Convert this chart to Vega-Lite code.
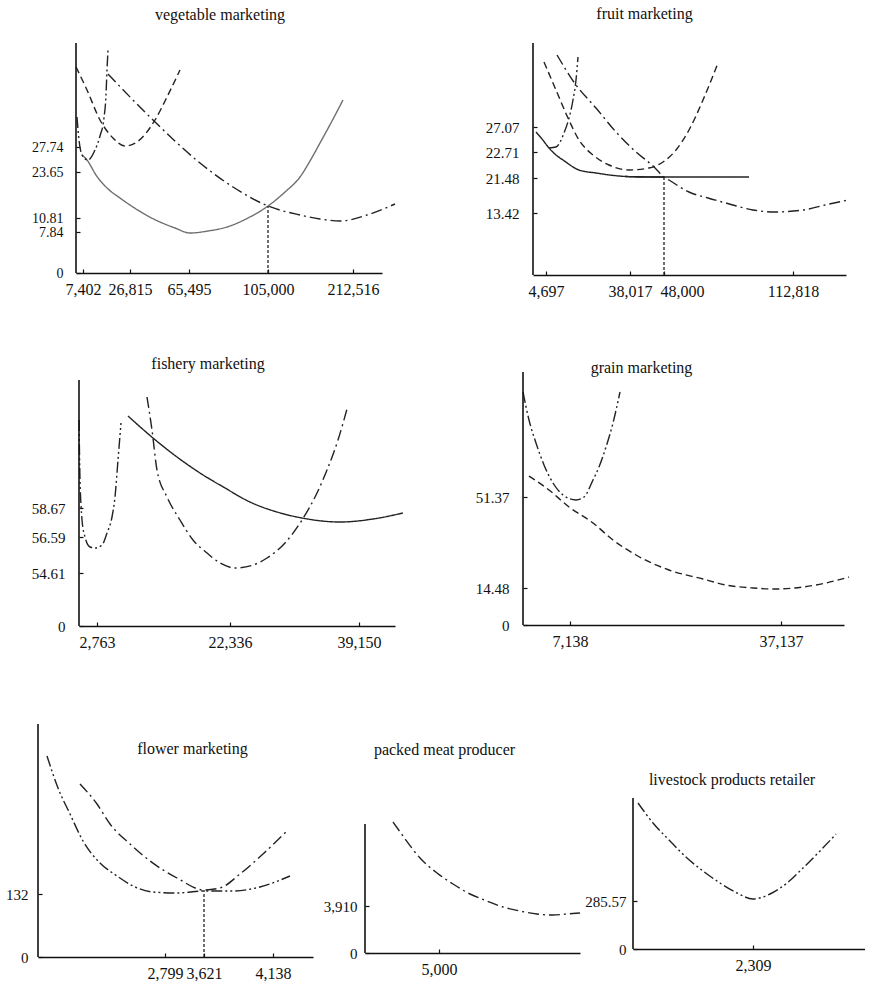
{
  "$schema": "https://vega.github.io/schema/vega-lite/v6.json",
  "padding": {"left": 0, "top": 4, "right": 0, "bottom": 0},
  "background": "white",
  "spacing": 0,
  "bounds": "full",
  "config": {
    "view": {"stroke": null},
    "axis": {"grid": false, "domainColor": "#111", "domainWidth": 1.6, "tickColor": "#111", "tickSize": -4, "tickWidth": 1.2, "labelFont": "Liberation Serif", "labelFontSize": 16, "labelColor": "#111", "labelFlush": false, "labelOverlap": false, "labelBound": false},
    "axisX": {"labelPadding": 12},
    "axisY": {"labelPadding": 18, "domain": false, "labelFontSize": 15},
    "title": {"font": "Liberation Serif", "fontSize": 16, "fontWeight": "normal", "color": "#111", "anchor": "middle", "frame": "group"},
    "line": {"color": "#222", "strokeWidth": 1.4, "interpolate": "monotone"},
    "rule": {"color": "#222", "strokeWidth": 1.3, "strokeDash": [3, 2]},
    "rect": {"opacity": 0}
  },
  "datasets": {
    "veg": [
      {"s": "solid", "x": 6, "y": 118}, {"s": "solid", "x": 11, "y": 113}, {"s": "solid", "x": 20, "y": 98}, {"s": "solid", "x": 31, "y": 85}, {"s": "solid", "x": 44, "y": 75}, {"s": "solid", "x": 57, "y": 66}, {"s": "solid", "x": 70, "y": 58}, {"s": "solid", "x": 84, "y": 51}, {"s": "solid", "x": 99, "y": 45}, {"s": "solid", "x": 114, "y": 40}, {"s": "solid", "x": 132, "y": 42}, {"s": "solid", "x": 151, "y": 46}, {"s": "solid", "x": 172, "y": 55}, {"s": "solid", "x": 192, "y": 67}, {"s": "solid", "x": 209, "y": 81}, {"s": "solid", "x": 224, "y": 96}, {"s": "solid", "x": 234, "y": 112}, {"s": "solid", "x": 244, "y": 130}, {"s": "solid", "x": 256, "y": 152}, {"s": "solid", "x": 267, "y": 173},
      {"s": "dashdotdot", "x": 1, "y": 156}, {"s": "dashdotdot", "x": 3, "y": 133}, {"s": "dashdotdot", "x": 6, "y": 118}, {"s": "dashdotdot", "x": 12, "y": 113}, {"s": "dashdotdot", "x": 19, "y": 123}, {"s": "dashdotdot", "x": 24, "y": 137}, {"s": "dashdotdot", "x": 28, "y": 155}, {"s": "dashdotdot", "x": 30, "y": 178}, {"s": "dashdotdot", "x": 31, "y": 203}, {"s": "dashdotdot", "x": 32, "y": 223},
      {"s": "dashed", "x": 0, "y": 206}, {"s": "dashed", "x": 11, "y": 183}, {"s": "dashed", "x": 24, "y": 153}, {"s": "dashed", "x": 37, "y": 135}, {"s": "dashed", "x": 49, "y": 127}, {"s": "dashed", "x": 61, "y": 131}, {"s": "dashed", "x": 79, "y": 153}, {"s": "dashed", "x": 91, "y": 176}, {"s": "dashed", "x": 104, "y": 203},
      {"s": "dashdot", "x": 32, "y": 199}, {"s": "dashdot", "x": 55, "y": 175}, {"s": "dashdot", "x": 77, "y": 153}, {"s": "dashdot", "x": 100, "y": 131}, {"s": "dashdot", "x": 124, "y": 110}, {"s": "dashdot", "x": 157, "y": 86}, {"s": "dashdot", "x": 192, "y": 67}, {"s": "dashdot", "x": 224, "y": 58}, {"s": "dashdot", "x": 244, "y": 54}, {"s": "dashdot", "x": 264, "y": 52}, {"s": "dashdot", "x": 291, "y": 58}, {"s": "dashdot", "x": 319, "y": 69}
    ],
    "fruit": [
      {"s": "solid", "x": 3, "y": 143}, {"s": "solid", "x": 9, "y": 136}, {"s": "solid", "x": 16, "y": 127}, {"s": "solid", "x": 23, "y": 120}, {"s": "solid", "x": 30, "y": 115}, {"s": "solid", "x": 46, "y": 105}, {"s": "solid", "x": 63, "y": 102}, {"s": "solid", "x": 86, "y": 99}, {"s": "solid", "x": 110, "y": 98}, {"s": "solid", "x": 131, "y": 98},
      {"s": "heavy", "x": 92, "y": 98.5}, {"s": "heavy", "x": 131, "y": 98}, {"s": "heavy", "x": 216, "y": 98},
      {"s": "dashdotdot", "x": 16, "y": 127}, {"s": "dashdotdot", "x": 23, "y": 128}, {"s": "dashdotdot", "x": 31, "y": 142}, {"s": "dashdotdot", "x": 36, "y": 157}, {"s": "dashdotdot", "x": 40, "y": 175}, {"s": "dashdotdot", "x": 43, "y": 195}, {"s": "dashdotdot", "x": 45, "y": 218},
      {"s": "dashed", "x": 11, "y": 213}, {"s": "dashed", "x": 23, "y": 185}, {"s": "dashed", "x": 35, "y": 157}, {"s": "dashed", "x": 46, "y": 135}, {"s": "dashed", "x": 60, "y": 120}, {"s": "dashed", "x": 76, "y": 110}, {"s": "dashed", "x": 96, "y": 105}, {"s": "dashed", "x": 116, "y": 107}, {"s": "dashed", "x": 130, "y": 113}, {"s": "dashed", "x": 143, "y": 125}, {"s": "dashed", "x": 156, "y": 145}, {"s": "dashed", "x": 170, "y": 175}, {"s": "dashed", "x": 185, "y": 212},
      {"s": "dashdot", "x": 24, "y": 220}, {"s": "dashdot", "x": 43, "y": 190}, {"s": "dashdot", "x": 63, "y": 167}, {"s": "dashdot", "x": 83, "y": 143}, {"s": "dashdot", "x": 103, "y": 123}, {"s": "dashdot", "x": 120, "y": 109}, {"s": "dashdot", "x": 131, "y": 98}, {"s": "dashdot", "x": 136, "y": 95}, {"s": "dashdot", "x": 156, "y": 83}, {"s": "dashdot", "x": 175, "y": 77}, {"s": "dashdot", "x": 193, "y": 72}, {"s": "dashdot", "x": 220, "y": 65}, {"s": "dashdot", "x": 241, "y": 63}, {"s": "dashdot", "x": 270, "y": 65}, {"s": "dashdot", "x": 292, "y": 70}, {"s": "dashdot", "x": 315, "y": 75}
    ],
    "fish": [
      {"s": "dashdotdot", "x": 0, "y": 206}, {"s": "dashdotdot", "x": 1, "y": 146}, {"s": "dashdotdot", "x": 2, "y": 121}, {"s": "dashdotdot", "x": 3, "y": 106}, {"s": "dashdotdot", "x": 6, "y": 89}, {"s": "dashdotdot", "x": 11, "y": 79}, {"s": "dashdotdot", "x": 16, "y": 78}, {"s": "dashdotdot", "x": 23, "y": 81}, {"s": "dashdotdot", "x": 28, "y": 93}, {"s": "dashdotdot", "x": 33, "y": 109}, {"s": "dashdotdot", "x": 36, "y": 129}, {"s": "dashdotdot", "x": 39, "y": 166}, {"s": "dashdotdot", "x": 42, "y": 203},
      {"s": "solid", "x": 49, "y": 210}, {"s": "solid", "x": 74, "y": 188}, {"s": "solid", "x": 98, "y": 169}, {"s": "solid", "x": 121, "y": 153}, {"s": "solid", "x": 146, "y": 138}, {"s": "solid", "x": 171, "y": 124}, {"s": "solid", "x": 198, "y": 114}, {"s": "solid", "x": 223, "y": 108}, {"s": "solid", "x": 261, "y": 104}, {"s": "solid", "x": 294, "y": 107}, {"s": "solid", "x": 324, "y": 113},
      {"s": "dashdot", "x": 68, "y": 229}, {"s": "dashdot", "x": 73, "y": 196}, {"s": "dashdot", "x": 78, "y": 156}, {"s": "dashdot", "x": 88, "y": 129}, {"s": "dashdot", "x": 101, "y": 106}, {"s": "dashdot", "x": 114, "y": 86}, {"s": "dashdot", "x": 128, "y": 73}, {"s": "dashdot", "x": 141, "y": 63}, {"s": "dashdot", "x": 156, "y": 58}, {"s": "dashdot", "x": 174, "y": 61}, {"s": "dashdot", "x": 188, "y": 68}, {"s": "dashdot", "x": 206, "y": 83}, {"s": "dashdot", "x": 223, "y": 106}, {"s": "dashdot", "x": 238, "y": 133}, {"s": "dashdot", "x": 248, "y": 156}, {"s": "dashdot", "x": 259, "y": 186}, {"s": "dashdot", "x": 268, "y": 217}
    ],
    "grain": [
      {"s": "dashdotdot", "x": 0, "y": 233}, {"s": "dashdotdot", "x": 6, "y": 205}, {"s": "dashdotdot", "x": 13, "y": 182}, {"s": "dashdotdot", "x": 21, "y": 160}, {"s": "dashdotdot", "x": 30, "y": 142}, {"s": "dashdotdot", "x": 40, "y": 130}, {"s": "dashdotdot", "x": 53, "y": 125}, {"s": "dashdotdot", "x": 61, "y": 128}, {"s": "dashdotdot", "x": 70, "y": 145}, {"s": "dashdotdot", "x": 76, "y": 158}, {"s": "dashdotdot", "x": 83, "y": 178}, {"s": "dashdotdot", "x": 90, "y": 202}, {"s": "dashdotdot", "x": 97, "y": 233},
      {"s": "dashed", "x": 6, "y": 149}, {"s": "dashed", "x": 26, "y": 135}, {"s": "dashed", "x": 46, "y": 118}, {"s": "dashed", "x": 70, "y": 102}, {"s": "dashed", "x": 90, "y": 85}, {"s": "dashed", "x": 113, "y": 70}, {"s": "dashed", "x": 146, "y": 55}, {"s": "dashed", "x": 180, "y": 46}, {"s": "dashed", "x": 203, "y": 40}, {"s": "dashed", "x": 230, "y": 37}, {"s": "dashed", "x": 253, "y": 36}, {"s": "dashed", "x": 280, "y": 38}, {"s": "dashed", "x": 303, "y": 42}, {"s": "dashed", "x": 326, "y": 48}
    ],
    "flower": [
      {"s": "dashdotdot", "x": 9, "y": 201}, {"s": "dashdotdot", "x": 20, "y": 169}, {"s": "dashdotdot", "x": 32, "y": 143}, {"s": "dashdotdot", "x": 45, "y": 116}, {"s": "dashdotdot", "x": 62, "y": 94}, {"s": "dashdotdot", "x": 79, "y": 81}, {"s": "dashdotdot", "x": 95, "y": 71}, {"s": "dashdotdot", "x": 115, "y": 65}, {"s": "dashdotdot", "x": 139, "y": 64}, {"s": "dashdotdot", "x": 166, "y": 66}, {"s": "dashdotdot", "x": 195, "y": 66}, {"s": "dashdotdot", "x": 222, "y": 70}, {"s": "dashdotdot", "x": 252, "y": 81},
      {"s": "dashdot", "x": 42, "y": 173}, {"s": "dashdot", "x": 59, "y": 153}, {"s": "dashdot", "x": 72, "y": 133}, {"s": "dashdot", "x": 92, "y": 113}, {"s": "dashdot", "x": 112, "y": 96}, {"s": "dashdot", "x": 139, "y": 79}, {"s": "dashdot", "x": 166, "y": 67}, {"s": "dashdot", "x": 182, "y": 69}, {"s": "dashdot", "x": 202, "y": 83}, {"s": "dashdot", "x": 225, "y": 103}, {"s": "dashdot", "x": 249, "y": 126}
    ],
    "meat": [
      {"s": "dashdot", "x": 28, "y": 131}, {"s": "dashdot", "x": 38, "y": 117}, {"s": "dashdot", "x": 55, "y": 95}, {"s": "dashdot", "x": 72, "y": 80}, {"s": "dashdot", "x": 88, "y": 69}, {"s": "dashdot", "x": 105, "y": 59}, {"s": "dashdot", "x": 122, "y": 52}, {"s": "dashdot", "x": 138, "y": 46}, {"s": "dashdot", "x": 155, "y": 42}, {"s": "dashdot", "x": 172, "y": 39}, {"s": "dashdot", "x": 188, "y": 38}, {"s": "dashdot", "x": 202, "y": 39}, {"s": "dashdot", "x": 215, "y": 40}
    ],
    "live": [
      {"s": "dashdotdot", "x": 5, "y": 146}, {"s": "dashdotdot", "x": 20, "y": 126}, {"s": "dashdotdot", "x": 37, "y": 108}, {"s": "dashdotdot", "x": 54, "y": 91}, {"s": "dashdotdot", "x": 70, "y": 78}, {"s": "dashdotdot", "x": 87, "y": 66}, {"s": "dashdotdot", "x": 104, "y": 56}, {"s": "dashdotdot", "x": 120, "y": 50}, {"s": "dashdotdot", "x": 137, "y": 55}, {"s": "dashdotdot", "x": 154, "y": 66}, {"s": "dashdotdot", "x": 170, "y": 81}, {"s": "dashdotdot", "x": 187, "y": 98}, {"s": "dashdotdot", "x": 203, "y": 115}
    ]
  },
  "vconcat": [
    {
      "spacing": 0, "bounds": "flush",
      "hconcat": [
        {"width": 76, "height": 346, "data": {"values": [{}]}, "mark": {"type": "rect"}, "encoding": {}},
        {
          "width": 306, "height": 269,
          "title": {"text": "vegetable marketing", "dx": -9, "offset": -19},
          "encoding": {
            "x": {"field": "x", "type": "quantitative", "scale": {"domain": [0, 306]}, "axis": {"title": null, "values": [7, 54, 113, 192, 277], "labelExpr": "datum.value==7?'7,402':datum.value==54?'26,815':datum.value==113?'65,495':datum.value==192?'105,000':'212,516'"}},
            "y": {"field": "y", "type": "quantitative", "scale": {"domain": [0, 269]}, "axis": {"title": null, "labelFontSize": 14, "labelPadding": 17, "values": [0, 41, 55, 101, 126], "labelExpr": "datum.value==0?'0':datum.value==41?'7.84':datum.value==55?'10.81':datum.value==101?'23.65':'27.74'"}}
          },
          "layer": [
            {"data": {"name": "veg"}, "mark": {"type": "line"}, "encoding": {
              "strokeDash": {"field": "s", "type": "nominal", "legend": null, "scale": {"domain": ["solid", "heavy", "dashed", "dashdot", "dashdotdot"], "range": [[1, 0], [1, 0], [7, 4], [11, 4, 2, 4], [11, 3, 2, 3, 2, 3]]}},
              "color": {"field": "s", "type": "nominal", "legend": null, "scale": {"domain": ["solid", "dashed", "dashdot", "dashdotdot"], "range": ["#6e6e6e", "#222222", "#222222", "#222222"]}}
            }},
            {"data": {"values": [{"x": 192, "y": 0, "y2": 67}]}, "mark": {"type": "rule"}, "encoding": {"y2": {"field": "y2"}}},
            {"data": {"values": [{"x": 0, "y": 0, "y2": 230}]}, "mark": {"type": "rule", "strokeDash": [], "color": "#111", "strokeWidth": 1.6}, "encoding": {"y2": {"field": "y2"}}}
          ]
        },
        {"width": 151, "height": 10, "data": {"values": [{}]}, "mark": {"type": "rect"}, "encoding": {}},
        {
          "width": 313, "height": 271,
          "title": {"text": "fruit marketing", "dx": -45, "offset": -18},
          "encoding": {
            "x": {"field": "x", "type": "quantitative", "scale": {"domain": [0, 313]}, "axis": {"title": null, "values": [13, 97, 131, 260], "labelOffset": {"condition": {"test": "datum.value==131", "value": 18}, "value": 0}, "labelExpr": "datum.value==13?'4,697':datum.value==97?'38,017':datum.value==131?'48,000':'112,818'"}},
            "y": {"field": "y", "type": "quantitative", "scale": {"domain": [0, 271]}, "axis": {"title": null, "values": [62, 97, 123, 148], "labelExpr": "datum.value==62?'13.42':datum.value==97?'21.48':datum.value==123?'22.71':'27.07'"}}
          },
          "layer": [
            {"data": {"name": "fruit"}, "mark": {"type": "line"}, "encoding": {
              "strokeDash": {"field": "s", "type": "nominal", "legend": null, "scale": {"domain": ["solid", "heavy", "dashed", "dashdot", "dashdotdot"], "range": [[1, 0], [1, 0], [7, 4], [11, 4, 2, 4], [11, 3, 2, 3, 2, 3]]}},
              "strokeWidth": {"field": "s", "type": "ordinal", "legend": null, "scale": {"domain": ["solid", "heavy", "dashed", "dashdot", "dashdotdot"], "range": [1.4, 3.2, 1.4, 1.4, 1.4]}}
            }},
            {"data": {"values": [{"x": 131, "y": 0, "y2": 98}]}, "mark": {"type": "rule"}, "encoding": {"y2": {"field": "y2"}}},
            {"data": {"values": [{"x": 0, "y": 0, "y2": 232}]}, "mark": {"type": "rule", "strokeDash": [], "color": "#111", "strokeWidth": 1.6}, "encoding": {"y2": {"field": "y2"}}}
          ]
        }
      ]
    },
    {
      "spacing": 0, "bounds": "flush",
      "hconcat": [
        {"width": 79, "height": 373, "data": {"values": [{}]}, "mark": {"type": "rect"}, "encoding": {}},
        {
          "width": 316, "height": 276,
          "title": {"text": "fishery marketing", "dx": -29, "offset": -22},
          "encoding": {
            "x": {"field": "x", "type": "quantitative", "scale": {"domain": [0, 316]}, "axis": {"title": null, "values": [18, 151, 280], "labelExpr": "datum.value==18?'2,763':datum.value==151?'22,336':'39,150'"}},
            "y": {"field": "y", "type": "quantitative", "scale": {"domain": [0, 276]}, "axis": {"title": null, "values": [0, 53, 89, 118], "labelExpr": "datum.value==0?'0':datum.value==53?'54.61':datum.value==89?'56.59':'58.67'"}}
          },
          "layer": [
            {"data": {"name": "fish"}, "mark": {"type": "line"}, "encoding": {"strokeDash": {"field": "s", "type": "nominal", "legend": null, "scale": {"domain": ["solid", "heavy", "dashed", "dashdot", "dashdotdot"], "range": [[1, 0], [1, 0], [7, 4], [11, 4, 2, 4], [11, 3, 2, 3, 2, 3]]}}}},
            {"data": {"values": [{"x": 0, "y": 0, "y2": 246}]}, "mark": {"type": "rule", "strokeDash": [], "color": "#111", "strokeWidth": 1.6}, "encoding": {"y2": {"field": "y2"}}}
          ]
        },
        {"width": 128, "height": 10, "data": {"values": [{}]}, "mark": {"type": "rect"}, "encoding": {}},
        {
          "width": 321, "height": 275,
          "title": {"text": "grain marketing", "dx": -42, "offset": -26},
          "encoding": {
            "x": {"field": "x", "type": "quantitative", "scale": {"domain": [0, 321]}, "axis": {"title": null, "values": [47, 258], "labelExpr": "datum.value==47?'7,138':'37,137'"}},
            "y": {"field": "y", "type": "quantitative", "scale": {"domain": [0, 275]}, "axis": {"title": null, "values": [0, 37, 128], "labelExpr": "datum.value==0?'0':datum.value==37?'14.48':'51.37'"}}
          },
          "layer": [
            {"data": {"name": "grain"}, "mark": {"type": "line"}, "encoding": {"strokeDash": {"field": "s", "type": "nominal", "legend": null, "scale": {"domain": ["solid", "heavy", "dashed", "dashdot", "dashdotdot"], "range": [[1, 0], [1, 0], [7, 4], [11, 4, 2, 4], [11, 3, 2, 3, 2, 3]]}}}},
            {"data": {"values": [{"x": 0, "y": 0, "y2": 253}]}, "mark": {"type": "rule", "strokeDash": [], "color": "#111", "strokeWidth": 1.6}, "encoding": {"y2": {"field": "y2"}}}
          ]
        }
      ]
    },
    {
      "spacing": 0, "bounds": "flush",
      "hconcat": [
        {"width": 38, "height": 10, "data": {"values": [{}]}, "mark": {"type": "rect"}, "encoding": {}},
        {
          "width": 275, "height": 233,
          "title": {"text": "flower marketing", "dx": 17, "offset": -34},
          "encoding": {
            "x": {"field": "x", "type": "quantitative", "scale": {"domain": [0, 275]}, "axis": {"title": null, "values": [127, 166, 235], "labelExpr": "datum.value==127?'2,799':datum.value==166?'3,621':'4,138'"}},
            "y": {"field": "y", "type": "quantitative", "scale": {"domain": [0, 233]}, "axis": {"title": null, "labelPadding": 14, "values": [0, 63], "labelExpr": "datum.value==0?'0':'132'"}}
          },
          "layer": [
            {"data": {"name": "flower"}, "mark": {"type": "line"}, "encoding": {"strokeDash": {"field": "s", "type": "nominal", "legend": null, "scale": {"domain": ["solid", "heavy", "dashed", "dashdot", "dashdotdot"], "range": [[1, 0], [1, 0], [7, 4], [11, 4, 2, 4], [11, 3, 2, 3, 2, 3]]}}}},
            {"data": {"values": [{"x": 166, "y": 0, "y2": 67}]}, "mark": {"type": "rule"}, "encoding": {"y2": {"field": "y2"}}},
            {"data": {"values": [{"x": 0, "y": 0, "y2": 233}]}, "mark": {"type": "rule", "strokeDash": [], "color": "#111", "strokeWidth": 1.6}, "encoding": {"y2": {"field": "y2"}}}
          ]
        },
        {"width": 52, "height": 10, "data": {"values": [{}]}, "mark": {"type": "rect"}, "encoding": {}},
        {
          "width": 215, "height": 229,
          "title": {"text": "packed meat producer", "dx": -28, "offset": -34},
          "encoding": {
            "x": {"field": "x", "type": "quantitative", "scale": {"domain": [0, 215]}, "axis": {"title": null, "values": [74], "labelExpr": "'5,000'"}},
            "y": {"field": "y", "type": "quantitative", "scale": {"domain": [0, 229]}, "axis": {"title": null, "labelPadding": 12, "values": [0, 47], "labelExpr": "datum.value==0?'0':'3,910'"}}
          },
          "layer": [
            {"data": {"name": "meat"}, "mark": {"type": "line"}, "encoding": {"strokeDash": {"field": "s", "type": "nominal", "legend": null, "scale": {"domain": ["solid", "heavy", "dashed", "dashdot", "dashdotdot"], "range": [[1, 0], [1, 0], [7, 4], [11, 4, 2, 4], [11, 3, 2, 3, 2, 3]]}}}},
            {"data": {"values": [{"x": 0, "y": 0, "y2": 129}]}, "mark": {"type": "rule", "strokeDash": [], "color": "#111", "strokeWidth": 1.6}, "encoding": {"y2": {"field": "y2"}}}
          ]
        },
        {"width": 53, "height": 10, "data": {"values": [{}]}, "mark": {"type": "rect"}, "encoding": {}},
        {
          "width": 232, "height": 225,
          "title": {"text": "livestock products retailer", "dx": -17, "offset": -64},
          "encoding": {
            "x": {"field": "x", "type": "quantitative", "scale": {"domain": [0, 232]}, "axis": {"title": null, "values": [120], "labelExpr": "'2,309'"}},
            "y": {"field": "y", "type": "quantitative", "scale": {"domain": [0, 225]}, "axis": {"title": null, "labelPadding": 11, "values": [0, 48], "labelExpr": "datum.value==0?'0':'285.57'"}}
          },
          "layer": [
            {"data": {"name": "live"}, "mark": {"type": "line"}, "encoding": {"strokeDash": {"field": "s", "type": "nominal", "legend": null, "scale": {"domain": ["solid", "heavy", "dashed", "dashdot", "dashdotdot"], "range": [[1, 0], [1, 0], [7, 4], [11, 4, 2, 4], [11, 3, 2, 3, 2, 3]]}}}},
            {"data": {"values": [{"x": 0, "y": 0, "y2": 151}]}, "mark": {"type": "rule", "strokeDash": [], "color": "#111", "strokeWidth": 1.6}, "encoding": {"y2": {"field": "y2"}}}
          ]
        }
      ]
    }
  ]
}
